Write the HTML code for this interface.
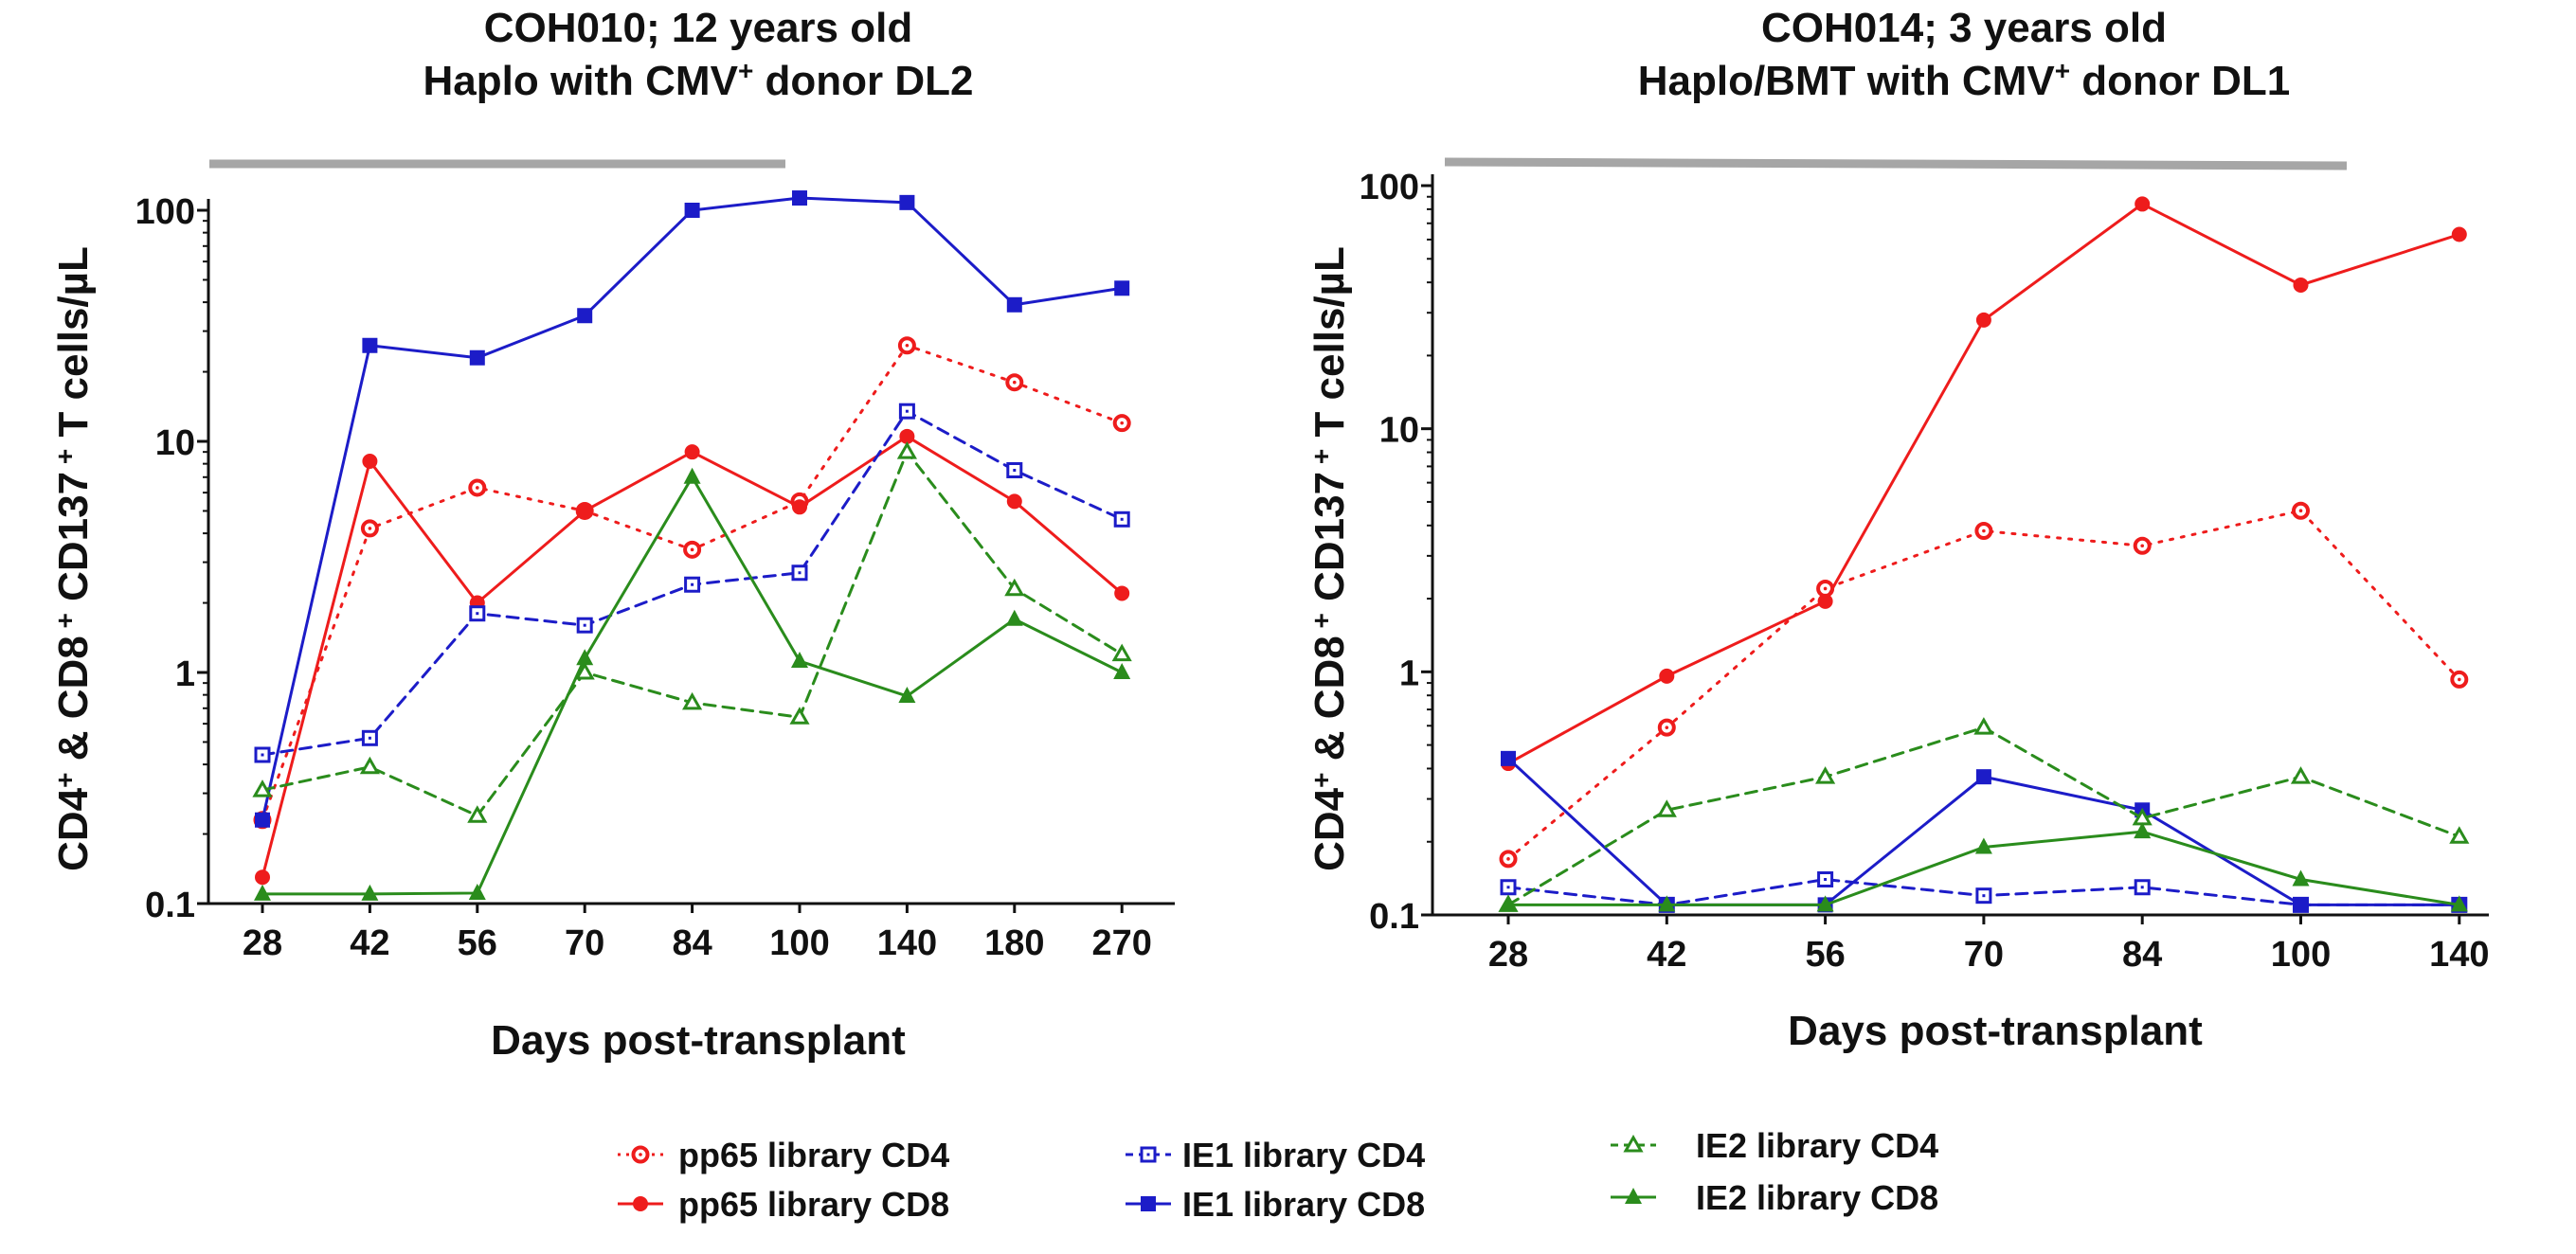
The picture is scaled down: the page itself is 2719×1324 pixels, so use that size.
<!DOCTYPE html>
<html><head><meta charset="utf-8"><style>
html,body{margin:0;padding:0;background:#fff;}
svg{display:block;font-family:"Liberation Sans",Arial,sans-serif;font-weight:bold;}
</style></head><body>
<svg id="chart" width="2719" height="1324" viewBox="0 0 2719 1324" xmlns="http://www.w3.org/2000/svg"></svg>
<script>
const leftCats = ["28","42","56","70","84","100","140","180","270"];
const rightCats = ["28","42","56","70","84","100","140"];
const yTicks = [0.1, 1, 10, 100];
const yTickLabels = ["0.1","1","10","100"];
const leftPp65CD4 = [0.23, 4.2, 6.3, 5.0, 3.4, 5.5, 26, 18, 12];
const leftPp65CD8 = [0.13, 8.2, 2.0, 5.0, 9.0, 5.2, 10.5, 5.5, 2.2];
const leftIE1CD4 = [0.44, 0.52, 1.8, 1.6, 2.4, 2.7, 13.5, 7.5, 4.6];
const leftIE1CD8 = [0.23, 26, 23, 35, 100, 113, 108, 39, 46];
const leftIE2CD4 = [0.31, 0.39, 0.24, 1.0, 0.74, 0.64, 9.0, 2.3, 1.2];
const leftIE2CD8 = [0.11, 0.11, 0.111, 1.15, 7.0, 1.12, 0.79, 1.7, 1.0];
const rightPp65CD4 = [0.17, 0.59, 2.2, 3.8, 3.3, 4.6, 0.93];
const rightPp65CD8 = [0.42, 0.96, 1.95, 28, 84, 39, 63];
const rightIE1CD4 = [0.13, 0.11, 0.14, 0.12, 0.13, 0.11, 0.11];
const rightIE1CD8 = [0.44, 0.11, 0.11, 0.37, 0.27, 0.11, 0.11];
const rightIE2CD4 = [0.11, 0.27, 0.37, 0.59, 0.25, 0.37, 0.21];
const rightIE2CD8 = [0.11, 0.11, 0.11, 0.19, 0.22, 0.14, 0.11];

const NS="http://www.w3.org/2000/svg";
const svg=document.getElementById('chart');
function mk(tag,attrs,parent){const e=document.createElementNS(NS,tag);for(const k in attrs)e.setAttribute(k,attrs[k]);(parent||svg).appendChild(e);return e;}
const RED="#ee1c1c",BLUE="#1c1cc8",GREEN="#2a8c1c";
const styles={
 pp65CD4:{c:RED,dash:"3,9",m:"circleOpen",name:"pp65 library CD4"},
 pp65CD8:{c:RED,dash:"",m:"circle",name:"pp65 library CD8"},
 IE1CD4:{c:BLUE,dash:"12,8",m:"squareOpen",name:"IE1 library CD4"},
 IE1CD8:{c:BLUE,dash:"",m:"square",name:"IE1 library CD8"},
 IE2CD4:{c:GREEN,dash:"12,8",m:"triOpen",name:"IE2 library CD4"},
 IE2CD8:{c:GREEN,dash:"",m:"tri",name:"IE2 library CD8"}
};
function marker(g,type,x,y,c){
 let e;
 if(type==="circle")e=mk('circle',{cx:x,cy:y,r:8,fill:c},g);
 else if(type==="circleOpen"){e=mk('circle',{cx:x,cy:y,r:7.5,fill:"#fff",stroke:c,"stroke-width":4},g);mk('circle',{cx:x,cy:y,r:1.8,fill:c},g);}
 else if(type==="square")e=mk('rect',{x:x-8,y:y-8,width:16,height:16,fill:c},g);
 else if(type==="squareOpen"){e=mk('rect',{x:x-7,y:y-7,width:14,height:14,fill:"#fff",stroke:c,"stroke-width":3},g);mk('rect',{x:x-1.5,y:y-1.5,width:3,height:3,fill:c},g);}
 else if(type==="tri")e=mk('polygon',{points:`${x},${y-10} ${x-9},${y+7} ${x+9},${y+7}`,fill:c},g);
 else {e=mk('polygon',{points:`${x},${y-8} ${x-8},${y+6} ${x+8},${y+6}`,fill:"#fff",stroke:c,"stroke-width":3},g);}
 return e;
}
function panel(cfg){
 const g=mk('g',{});
 
 
 const ylog=v=>cfg.y01+(Math.log10(v)+1)/3*(cfg.y100-cfg.y01);
 const xpos=i=>cfg.x0+i*cfg.dx;
 const t1=mk('text',{x:cfg.tx,y:44,"text-anchor":"middle","font-size":44,fill:"#111"},g);t1.textContent=cfg.title1;
 
 const t2=mk('text',{x:cfg.tx,y:100,"text-anchor":"middle","font-size":44,fill:"#111"},g);
 
 t2.innerHTML=cfg.title2a+'<tspan dy="-16" font-size="28">+</tspan><tspan dy="16">'+cfg.title2b+'</tspan>';
 const bar=mk('line',{x1:cfg.gb[0],y1:cfg.gb[2],x2:cfg.gb[1],y2:cfg.gb[3],stroke:"#a6a6a6","stroke-width":9},g);
 
 const ya=mk('line',{x1:cfg.ax,y1:cfg.y100-12,x2:cfg.ax,y2:cfg.y01,stroke:"#111","stroke-width":3},g);
 
 const xa=mk('line',{x1:cfg.ax,y1:cfg.y01,x2:cfg.axEnd,y2:cfg.y01,stroke:"#111","stroke-width":3},g);
 
 yTicks.forEach((v,i)=>{
  const y=ylog(v);
  mk('line',{x1:cfg.ax-12,y1:y,x2:cfg.ax,y2:y,stroke:"#111","stroke-width":3},g);
  const t=mk('text',{x:cfg.ax-14,y:y+14,"text-anchor":"end","font-size":38,fill:"#111"},g);
  t.textContent=yTickLabels[i];
  
  if(i<3)for(let k=2;k<10;k++){const yy=ylog(v*k);mk('line',{x1:cfg.ax-6,y1:yy,x2:cfg.ax,y2:yy,stroke:"#111","stroke-width":2},g);}
 });
 cfg.cats.forEach((c,i)=>{
  const x=xpos(i);
  mk('line',{x1:x,y1:cfg.y01,x2:x,y2:cfg.y01+10,stroke:"#111","stroke-width":3},g);
  const t=mk('text',{x:x,y:cfg.y01+54,"text-anchor":"middle","font-size":38,fill:"#111"},g);
  t.textContent=c;
  
 });
 const xt=mk('text',{x:cfg.xtx,y:cfg.xty,"text-anchor":"middle","font-size":44,fill:"#111"},g);xt.textContent="Days post-transplant";
 
 const yt=mk('text',{x:0,y:0,"text-anchor":"middle","font-size":44,fill:"#111",transform:`translate(${cfg.ytx},${cfg.yty}) rotate(-90)`},g);
 yt.innerHTML='CD4<tspan dy="-14" font-size="28">+</tspan><tspan dy="14"> &amp; CD8</tspan><tspan dy="-14" font-size="28"> +</tspan><tspan dy="14"> CD137</tspan><tspan dy="-14" font-size="28"> +</tspan><tspan dy="14"> T cells/µL</tspan>';
 
 for(const key in cfg.series){
  const st=styles[key],vals=cfg.series[key];
  const sg=mk('g',{},g);
  
  const pts=vals.map((v,i)=>xpos(i)+','+ylog(v)).join(' ');
  mk('polyline',{points:pts,fill:"none",stroke:st.c,"stroke-width":3,"stroke-dasharray":st.dash,"stroke-linecap":st.dash?"round":"butt"},sg);
  vals.forEach((v,i)=>{const m=marker(sg,st.m,xpos(i),ylog(v),st.c);});
 }
}
panel({id:"left-chart",tx:737,title1:"COH010;  12 years old",title2a:"Haplo with CMV",title2b:" donor DL2",
 gb:[221,829,173,173],ax:220,axEnd:1240,y01:954,y100:222,x0:277,dx:113.4,cats:leftCats,
 xtx:737,xty:1113,ytx:92,yty:590,
 series:{pp65CD4:leftPp65CD4,pp65CD8:leftPp65CD8,IE1CD4:leftIE1CD4,IE1CD8:leftIE1CD8,IE2CD4:leftIE2CD4,IE2CD8:leftIE2CD8}});
panel({id:"right-chart",tx:2073,title1:"COH014;  3 years old",title2a:"Haplo/BMT with CMV",title2b:" donor DL1",
 gb:[1525,2477,171,175],ax:1512,axEnd:2627,y01:966,y100:196,x0:1592,dx:167.3,cats:rightCats,
 xtx:2106,xty:1103,ytx:1418,yty:590,
 series:{pp65CD4:rightPp65CD4,pp65CD8:rightPp65CD8,IE1CD4:rightIE1CD4,IE1CD8:rightIE1CD8,IE2CD4:rightIE2CD4,IE2CD8:rightIE2CD8}});
const lg=mk('g',{});

const legendPos=[["pp65CD4",652,1219,716],["pp65CD8",652,1271,716],["IE1CD4",1188,1219,1248],["IE1CD8",1188,1271,1248],["IE2CD4",1700,1209,1790],["IE2CD8",1700,1264,1790]];
legendPos.forEach(([key,x,y,tx])=>{
 const st=styles[key];
 const e=mk('g',{},lg);
 
 mk('line',{x1:x,y1:y,x2:x+48,y2:y,stroke:st.c,"stroke-width":3,"stroke-dasharray":st.dash?(st.m==="circleOpen"?"3,6":"8,6"):""},e);
 marker(e,st.m,x+24,y,st.c);
 const t=mk('text',{x:tx,y:y+13,"font-size":36,fill:"#111"},e);t.textContent=st.name;
});
</script>
</body></html>
